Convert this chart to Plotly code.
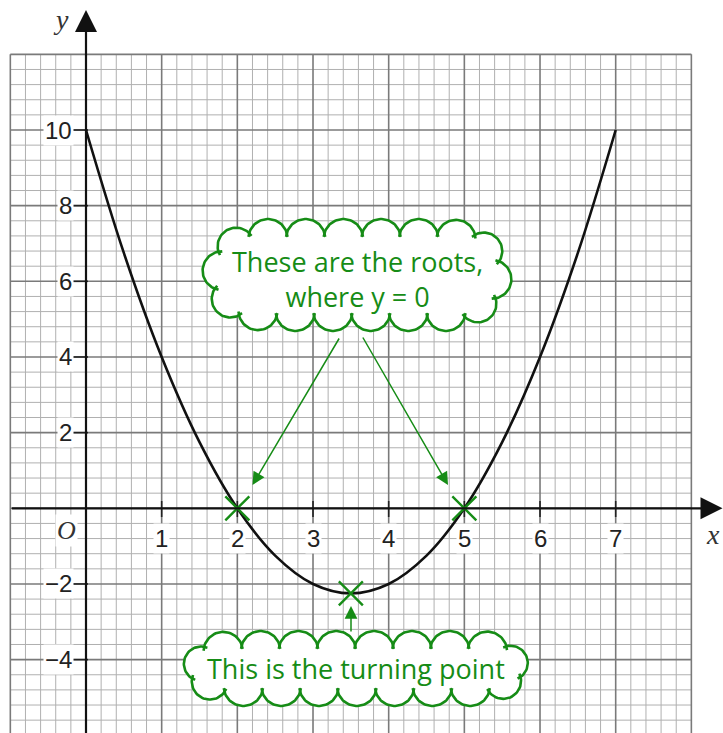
import numpy as np
import plotly.graph_objects as go

# ---------------- data ----------------
curve_x = [0, 0.5, 1, 1.5, 2, 2.5, 3, 3.5, 4, 4.5, 5, 5.5, 6, 6.5, 7]
curve_y = [10, 6.75, 4, 1.75, 0, -1.25, -2, -2.25, -2, -1.25, 0, 1.75, 4, 6.75, 10]
roots_x = [2, 5]
roots_y = [0, 0]
turning_x = [3.5]
turning_y = [-2.25]
x_tick_vals = [1, 2, 3, 4, 5, 6, 7]
x_tick_text = ["1", "2", "3", "4", "5", "6", "7"]
y_tick_vals = [10, 8, 6, 4, 2, -2, -4]
y_tick_text = ["10", "8", "6", "4", "2", "\u22122", "\u22124"]
roots_label = "These are the roots,<br>where y = 0"
turning_label = "This is the turning point"

# ---------------- layout helpers ----------------
W, H = 723, 733
PX0, PXU = 86.0, 75.67
PY0, PYU = 508.3, 37.83


def dx(px):
    return (px - PX0) / PXU


def dy(py):
    return (PY0 - py) / PYU


XR = [dx(0), dx(W)]
YR = [dy(H), dy(0)]
GREEN = "#168c16"
GX0, GX1, GY0, GY1 = -1, 8, -6, 12

fig = go.Figure()


def seg_trace(segs, color, width):
    xs, ys = [], []
    for (x0, y0, x1, y1) in segs:
        xs += [x0, x1, None]
        ys += [y0, y1, None]
    return go.Scatter(x=xs, y=ys, mode="lines", line=dict(color=color, width=width),
                      hoverinfo="skip", showlegend=False)


minor, major = [], []
for i in range(int(round((GX1 - GX0) / 0.2)) + 1):
    xv = round(GX0 + 0.2 * i, 6)
    s = (xv, GY0, xv, GY1)
    (major if abs(xv - round(xv)) < 1e-6 else minor).append(s)
for i in range(int(round((GY1 - GY0) / 0.4)) + 1):
    yv = round(GY0 + 0.4 * i, 6)
    s = (GX0, yv, GX1, yv)
    (major if abs(yv / 2 - round(yv / 2)) < 1e-6 else minor).append(s)
fig.add_trace(seg_trace(minor, "#b0b0b0", 1))
fig.add_trace(seg_trace(major, "#7a7a7a", 1.6))

# tick marks
ticks = [(xt, dy(501), xt, dy(517)) for xt in x_tick_vals]
ticks += [(dx(73), yt, dx(88), yt) for yt in y_tick_vals]
fig.add_trace(seg_trace(ticks, "#222222", 1.6))

# curve
fig.add_trace(go.Scatter(x=curve_x, y=curve_y, mode="lines",
                         line=dict(color="#111111", width=2.6, shape="spline", smoothing=1),
                         hoverinfo="skip", showlegend=False))

# crosses
fig.add_trace(go.Scatter(x=roots_x + turning_x, y=roots_y + turning_y, mode="markers",
                         marker=dict(symbol="x-thin", size=24,
                                     line=dict(color=GREEN, width=2.4)),
                         hoverinfo="skip", showlegend=False))


# ---------------- clouds ----------------
def rounded_rect(x0, y0, x1, y1, r, m=4000):
    pts = []
    corners = [(x1 - r, y0 + r, -np.pi / 2, 0), (x1 - r, y1 - r, 0, np.pi / 2),
               (x0 + r, y1 - r, np.pi / 2, np.pi), (x0 + r, y0 + r, np.pi, 1.5 * np.pi)]
    for cx, cy, a0, a1 in corners:
        for t in np.linspace(a0, a1, 60):
            pts.append((cx + r * np.cos(t), cy + r * np.sin(t)))
    pts.append(pts[0])
    pts = np.array(pts)
    d = np.r_[0, np.cumsum(np.hypot(*np.diff(pts, axis=0).T))]
    L = d[-1]
    out = []
    for k in range(m):
        t = L * k / m
        out.append((np.interp(t, d, pts[:, 0]), np.interp(t, d, pts[:, 1])))
    return np.array(out), L


def cloud(x0, y0, x1, y1, r, n, s, ext=0.2, offset=0.0):
    dense, L = rounded_rect(x0, y0, x1, y1, r)
    m = len(dense)
    idx = [int(((k + offset) / n) * m) % m for k in range(n)]
    cusps = dense[idx]
    ctr = np.array([(x0 + x1) / 2, (y0 + y1) / 2])
    fillx, filly, strx, stry = [], [], [], []
    for k in range(n):
        A = cusps[k]
        B = cusps[(k + 1) % n]
        c = np.hypot(*(B - A))
        t = (B - A) / c
        nrm = np.array([-t[1], t[0]])
        M = (A + B) / 2
        if np.dot(M - ctr, nrm) < 0:
            nrm = -nrm
        R = (c * c / 4 + s * s) / (2 * s)
        C = M - nrm * (R - s)
        beta = np.arctan2(c / 2, R - s)
        phi = np.arctan2(nrm[1], nrm[0])

        def arc(e):
            th = np.linspace(-beta - e, beta + e, 40)
            px = C[0] + R * np.cos(phi + th)
            py = C[1] + R * np.sin(phi + th)
            if np.hypot(px[0] - A[0], py[0] - A[1]) > np.hypot(px[-1] - A[0], py[-1] - A[1]):
                px, py = px[::-1], py[::-1]
            return px, py
        px, py = arc(0)
        fillx += [dx(v) for v in px]
        filly += [dy(v) for v in py]
        px, py = arc(ext)
        strx += [dx(v) for v in px] + [None]
        stry += [dy(v) for v in py] + [None]
    fig.add_trace(go.Scatter(x=fillx, y=filly, mode="lines", fill="toself",
                             fillcolor="white", line=dict(width=0, color="white"),
                             hoverinfo="skip", showlegend=False))
    fig.add_trace(go.Scatter(x=strx, y=stry, mode="lines",
                             line=dict(color=GREEN, width=2.6),
                             hoverinfo="skip", showlegend=False))


cloud(214, 233, 500, 317, 36, 18, 14, offset=0.3)
cloud(190, 645, 522, 692, 23, 19, 14, offset=0.2)

annotations = []
annotations.append(dict(x=dx(357), y=dy(279), xref="x", yref="y", text=roots_label,
                        showarrow=False,
                        font=dict(family="Open Sans", size=27, color=GREEN)))
annotations.append(dict(x=dx(356), y=dy(668), xref="x", yref="y", text=turning_label,
                        showarrow=False,
                        font=dict(family="Open Sans", size=27, color=GREEN)))

# green arrows
for (tx, ty, hx, hy) in [(340, 337, 252.5, 485), (362, 336, 448, 485), (351, 633, 351, 606)]:
    annotations.append(dict(x=dx(hx), y=dy(hy), ax=dx(tx), ay=dy(ty), xref="x", yref="y",
                            axref="x", ayref="y", text="", showarrow=True, arrowhead=2,
                            arrowsize=1.7, arrowwidth=1.5, arrowcolor=GREEN, standoff=0))

# axes with arrows
annotations.append(dict(x=0, y=dy(10), ax=0, ay=dy(H + 5), xref="x", yref="y",
                        axref="x", ayref="y", text="", showarrow=True, arrowhead=2,
                        arrowsize=2, arrowwidth=2.2, arrowcolor="#111111", standoff=0))
annotations.append(dict(x=dx(722.5), y=0, ax=GX0, ay=0, xref="x", yref="y",
                        axref="x", ayref="y", text="", showarrow=True, arrowhead=2,
                        arrowsize=2, arrowwidth=2.2, arrowcolor="#111111", standoff=0))

# tick labels
for xv, tt in zip(x_tick_vals, x_tick_text):
    annotations.append(dict(x=xv, y=dy(538), xref="x", yref="y", text=tt, showarrow=False,
                            bgcolor="white", borderpad=1,
                            font=dict(family="Liberation Sans", size=24, color="#222222")))
for yv, tt in zip(y_tick_vals, y_tick_text):
    annotations.append(dict(x=dx(74), y=yv, xref="x", yref="y", text=tt, showarrow=False,
                            xanchor="right", bgcolor="white", borderpad=1,
                            font=dict(family="Liberation Sans", size=24, color="#222222")))

annotations.append(dict(x=dx(66), y=dy(530), xref="x", yref="y", text="<i>O</i>",
                        showarrow=False, bgcolor="white",
                        font=dict(family="Liberation Serif", size=26, color="#333333")))
annotations.append(dict(x=dx(61), y=dy(19), xref="x", yref="y", text="<i>y</i>",
                        showarrow=False,
                        font=dict(family="Liberation Serif", size=28, color="#333333")))
annotations.append(dict(x=dx(722), y=dy(534), xref="x", yref="y", text="<i>x</i>",
                        showarrow=False, xanchor="right",
                        font=dict(family="Liberation Serif", size=28, color="#333333")))

fig.update_layout(
    width=W, height=H, margin=dict(l=0, r=0, t=0, b=0),
    paper_bgcolor="white", plot_bgcolor="white",
    xaxis=dict(range=XR, visible=False, fixedrange=True),
    yaxis=dict(range=YR, visible=False, fixedrange=True),
    annotations=annotations, showlegend=False,
)

fig.write_html("out.html", config={"displayModeBar": False},
               post_script="document.body.style.margin='0px';document.body.style.overflow='hidden';")
